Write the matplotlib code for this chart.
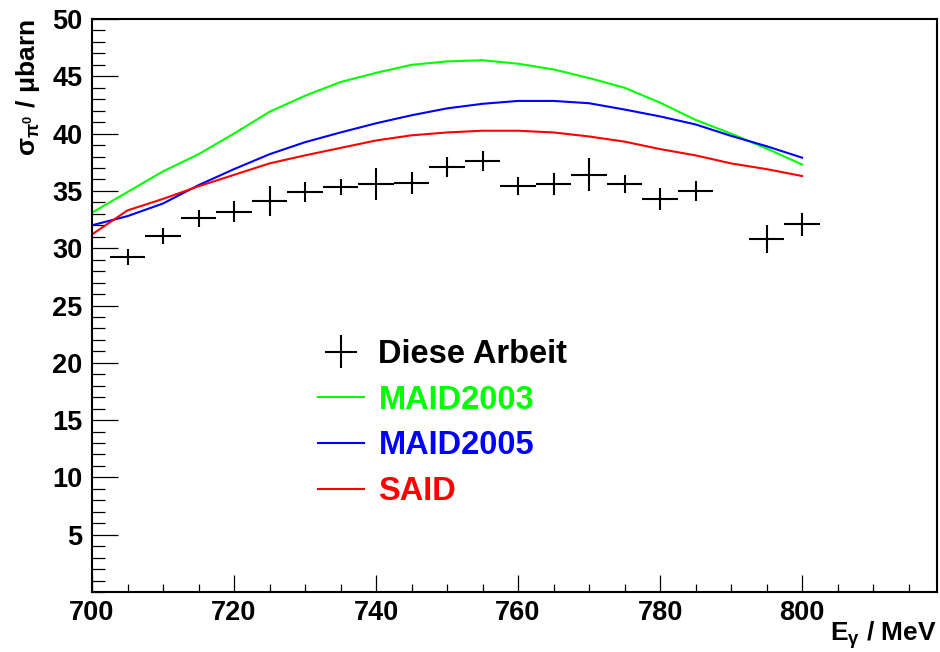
import numpy as np
import matplotlib
matplotlib.use("Agg")
import matplotlib.pyplot as plt
from matplotlib.ticker import MultipleLocator, FixedLocator

plt.rcParams['font.family'] = ['Liberation Sans', 'DejaVu Sans']
plt.rcParams['font.weight'] = 'bold'
plt.rcParams['mathtext.fontset'] = 'custom'
plt.rcParams['mathtext.rm'] = 'Liberation Sans'
plt.rcParams['mathtext.it'] = 'Liberation Sans'

# measured cross section (this work)
e_data = [705, 710, 715, 720, 725, 730, 735, 740, 745, 750, 755,
          760, 765, 770, 775, 780, 785, 795, 800]
sig_data = [29.2, 31.1, 32.6, 33.2, 34.1, 34.9, 35.3, 35.6, 35.7, 37.1, 37.6,
            35.4, 35.6, 36.4, 35.6, 34.3, 35.0, 30.8, 32.1]
sig_err = [0.7, 0.7, 0.75, 0.9, 1.3, 0.9, 0.7, 1.4, 0.95, 0.85, 0.85,
           0.8, 1.0, 1.45, 0.8, 0.95, 0.85, 1.2, 1.0]

# model curves
e_model = np.arange(700, 801, 5)
maid2003 = [33.1, 34.9, 36.7, 38.2, 40.0, 41.9, 43.3, 44.5, 45.3, 46.0, 46.3,
            46.4, 46.1, 45.6, 44.85, 44.0, 42.7, 41.2, 40.0, 38.7, 37.3]
maid2005 = [32.0, 32.8, 33.9, 35.5, 36.9, 38.2, 39.25, 40.1, 40.9, 41.6, 42.2,
            42.6, 42.85, 42.85, 42.65, 42.1, 41.5, 40.8, 39.8, 38.9, 37.9]
said = [31.2, 33.3, 34.3, 35.4, 36.4, 37.4, 38.1, 38.75, 39.4, 39.85, 40.1,
        40.25, 40.25, 40.1, 39.75, 39.3, 38.65, 38.1, 37.4, 36.9, 36.3]

fig = plt.figure(figsize=(9.4, 6.52), dpi=100)
ax = fig.add_axes([92 / 940, 1 - 592 / 652, 845 / 940, 573 / 652])

h_data = ax.errorbar(e_data, sig_data, xerr=2.5, yerr=sig_err, fmt='none',
                     ecolor='black', elinewidth=1.5, capsize=0)
h1, = ax.plot(e_model, maid2003, color='#00ff00', lw=1.5)
h2, = ax.plot(e_model, maid2005, color='#0000ff', lw=1.5)
h3, = ax.plot(e_model, said, color='#ff0000', lw=1.5)

ax.set_xlim(700, 819)
ax.set_ylim(0, 50)
ax.xaxis.set_major_locator(MultipleLocator(20))
ax.xaxis.set_minor_locator(MultipleLocator(5))
ax.yaxis.set_major_locator(FixedLocator(range(5, 51, 5)))
ax.yaxis.set_minor_locator(MultipleLocator(1))
ax.tick_params(axis='x', which='major', length=12.5, width=0.9, direction='in',
               labelsize=19.5, pad=6)
ax.tick_params(axis='x', which='minor', length=6, width=0.9, direction='in')
ax.tick_params(axis='y', which='major', length=19, width=0.9, direction='in',
               labelsize=19.5, pad=7)
ax.tick_params(axis='y', which='minor', length=9.5, width=0.9, direction='in')
for lab in ax.get_xticklabels() + ax.get_yticklabels():
    lab.set_fontweight('bold')
for s in ax.spines.values():
    s.set_linewidth(1.5)

fig.text(937 / 940, 1 - 635 / 652, r'E$_{\gamma}$ / MeV', ha='right', va='center',
         fontsize=19, fontweight='bold')
fig.text(28 / 940, 1 - 19 / 652, r'$\sigma_{\pi^{0}}$ / $\mu$barn', rotation=90,
         ha='center', va='top', fontsize=19, fontweight='bold')

leg = ax.legend([h_data, h1, h2, h3], ['Diese Arbeit', 'MAID2003', 'MAID2005', 'SAID'],
                loc='upper left', bbox_to_anchor=(305 / 940, 1 - 326 / 652),
                bbox_transform=fig.transFigure, frameon=False, borderaxespad=0,
                handlelength=1.4, handletextpad=0.45, labelspacing=0.45,
                prop={'size': 23.5, 'weight': 'bold'},
                labelcolor=['black', '#00ff00', '#0000ff', '#ff0000'])

fig.savefig('out.png', dpi=100)
